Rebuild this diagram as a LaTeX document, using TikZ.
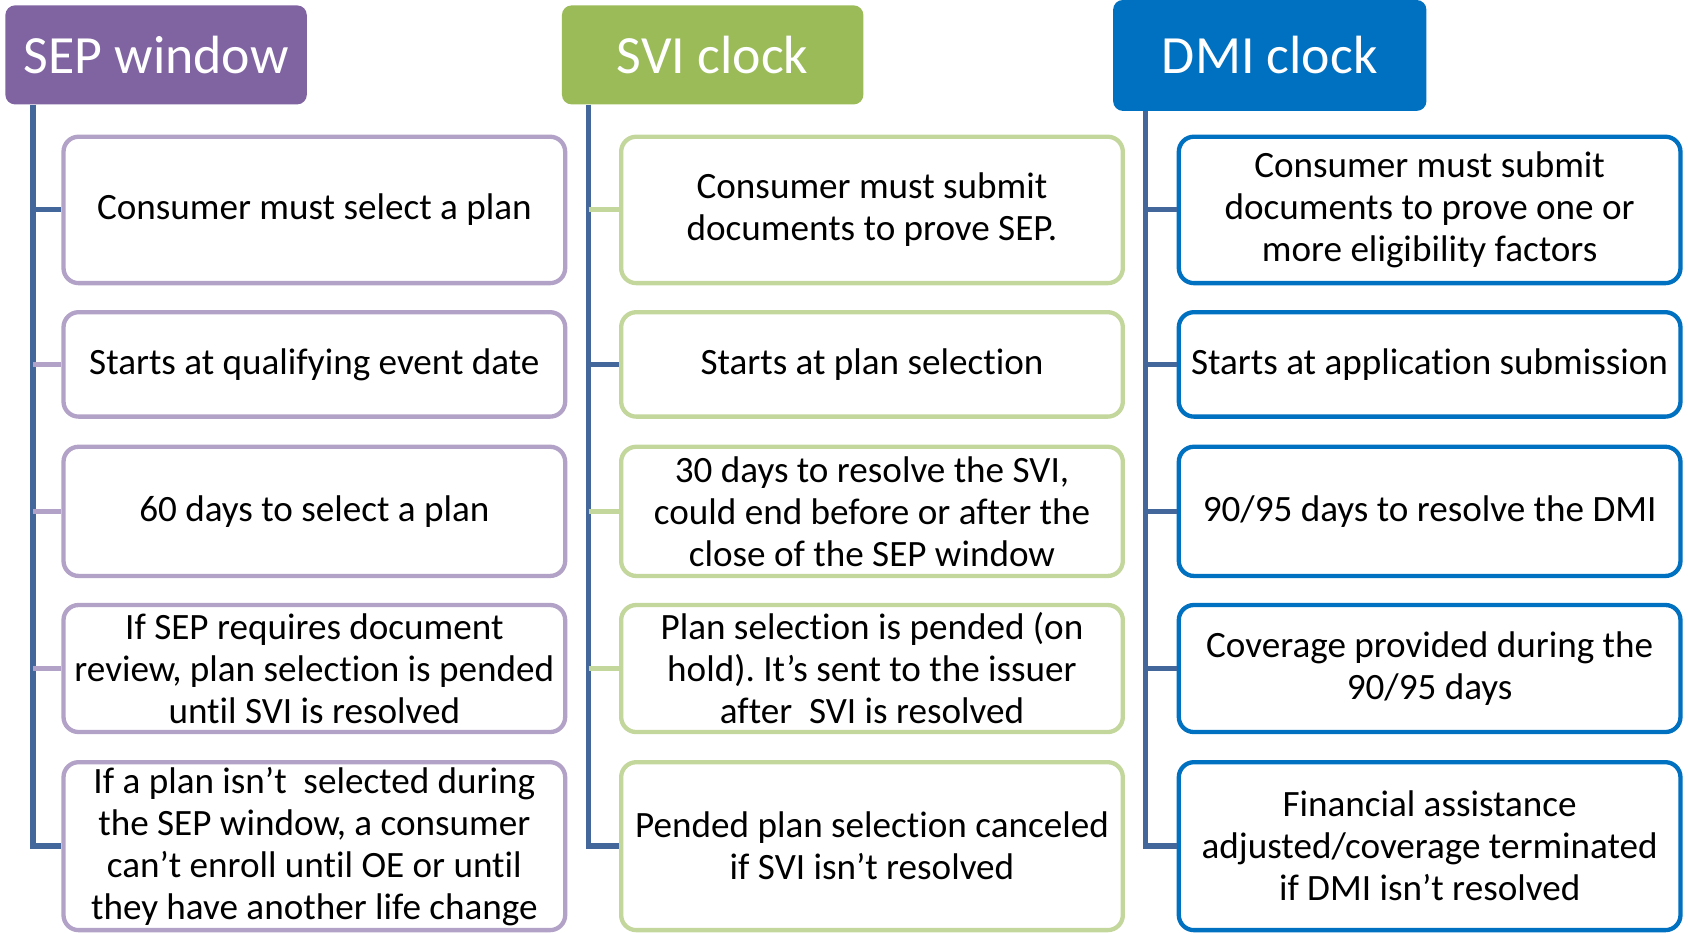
\documentclass[tikz,border=0pt]{standalone}
\usepackage{fontspec}
\setmainfont{Carlito}[Ligatures=NoCommon]
\usetikzlibrary{positioning}

\definecolor{sepfill}{HTML}{8064A2}
\definecolor{sepline}{HTML}{B3A2C7}
\definecolor{svifill}{HTML}{9BBB59}
\definecolor{sviline}{HTML}{C3D69B}
\definecolor{dmifill}{HTML}{0070C0}
\definecolor{trunkblue}{HTML}{43679A}

\begin{document}
\frenchspacing
\begin{tikzpicture}[x=1pt,y=1pt,on grid,
    head/.style={rounded corners=9pt,text=white,inner sep=0pt,
      minimum width=280pt,minimum height=92pt,font=\fontsize{50}{60}\selectfont},
    item/.style={draw,line width=4pt,rounded corners=14pt,fill=white,align=center,
      inner sep=0pt,minimum width=466pt,font=\fontsize{34.5}{39}\selectfont},
    sepbox/.style={item,draw=sepline},
    svibox/.style={item,draw=sviline},
    dmibox/.style={item,draw=dmifill},
    trunk/.style={draw=trunkblue,line width=5pt},
    link/.style={line width=4.5pt}]

\useasboundingbox (0,0) rectangle (1568,-866);

% column heads
\node[head,fill=sepfill] (sep_h) at (145,-51) {SEP window};
\node[head,fill=svifill] (svi_h) [right=517pt of sep_h] {SVI clock};
\node[head,fill=dmifill,minimum width=291pt,minimum height=103pt] (dmi_h) at (1179.5,-51.5) {DMI clock};

\coordinate (sep_t) at ([xshift=26pt]sep_h.south west);
\coordinate (svi_t) at ([xshift=25pt]svi_h.south west);
\coordinate (dmi_t) at ([xshift=30pt]dmi_h.south west);

% SEP window
\node[sepbox,minimum height=136pt] (sep_1) at (292,-195) {Consumer must select a plan};
\node[sepbox,minimum height=97pt] (sep_2) [below=143.5pt of sep_1] {Starts at qualifying event date};
\node[sepbox,minimum height=120pt] (sep_3) [below=136.5pt of sep_2] {60 days to select a plan};
\node[sepbox,minimum height=118pt] (sep_4) [below=146pt of sep_3] {If SEP requires document\\review, plan selection is pended\\until SVI is resolved};
\node[sepbox,minimum height=156pt] (sep_5) [below=165pt of sep_4] {If a plan isn’t\ \ selected during\\the SEP window, a consumer\\can’t enroll until OE or until\\they have another life change};

% SVI clock
\node[svibox,minimum height=136pt] (svi_1) [right=518pt of sep_1] {Consumer must submit\\documents to prove SEP.};
\node[svibox,minimum height=97pt] (svi_2) [below=143.5pt of svi_1] {Starts at plan selection};
\node[svibox,minimum height=120pt] (svi_3) [below=136.5pt of svi_2] {30 days to resolve the SVI,\\could end before or after the\\close of the SEP window};
\node[svibox,minimum height=118pt] (svi_4) [below=146pt of svi_3] {Plan selection is pended (on\\hold). It’s sent to the issuer\\after\ \ SVI is resolved};
\node[svibox,minimum height=156pt] (svi_5) [below=165pt of svi_4] {Pended plan selection canceled\\if SVI isn’t resolved};

% DMI clock
\node[dmibox,minimum height=136pt] (dmi_1) [right=518pt of svi_1] {Consumer must submit\\documents to prove one or\\more eligibility factors};
\node[dmibox,minimum height=97pt] (dmi_2) [below=143.5pt of dmi_1] {Starts at application submission};
\node[dmibox,minimum height=120pt] (dmi_3) [below=136.5pt of dmi_2] {90/95 days to resolve the DMI};
\node[dmibox,minimum height=118pt] (dmi_4) [below=146pt of dmi_3] {Coverage provided during the\\90/95 days};
\node[dmibox,minimum height=156pt] (dmi_5) [below=165pt of dmi_4] {Financial assistance\\adjusted/coverage terminated\\if DMI isn’t resolved};

% trunks and branches
\draw[trunk] (sep_t) |- (sep_5.west);
\draw[link,trunkblue] (sep_t |- sep_1.west) -- (sep_1.west);
\draw[link,sepline] (sep_t |- sep_2.west) -- (sep_2.west);
\draw[link,sepline] (sep_t |- sep_3.west) -- (sep_3.west);
\draw[link,sepline] (sep_t |- sep_4.west) -- (sep_4.west);

\draw[trunk] (svi_t) |- (svi_5.west);
\draw[link,sviline] (svi_t |- svi_1.west) -- (svi_1.west);
\draw[link,trunkblue] (svi_t |- svi_2.west) -- (svi_2.west);
\draw[link,sviline] (svi_t |- svi_3.west) -- (svi_3.west);
\draw[link,sviline] (svi_t |- svi_4.west) -- (svi_4.west);

\draw[trunk] (dmi_t) |- (dmi_5.west);
\draw[link,trunkblue] (dmi_t |- dmi_1.west) -- (dmi_1.west);
\draw[link,trunkblue] (dmi_t |- dmi_2.west) -- (dmi_2.west);
\draw[link,trunkblue] (dmi_t |- dmi_3.west) -- (dmi_3.west);
\draw[link,trunkblue] (dmi_t |- dmi_4.west) -- (dmi_4.west);
\end{tikzpicture}
\end{document}
